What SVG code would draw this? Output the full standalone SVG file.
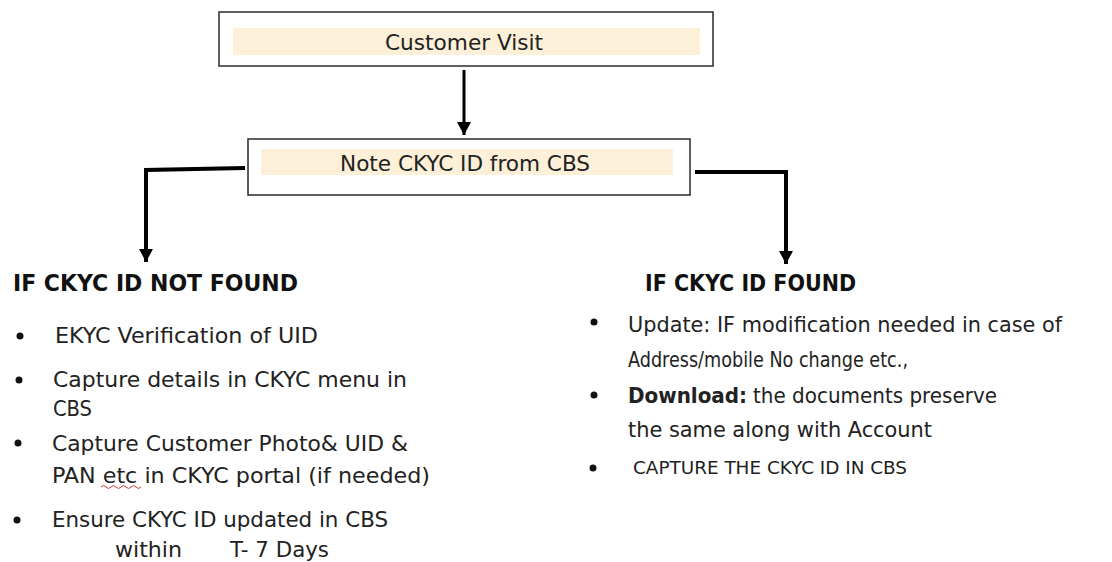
<svg xmlns="http://www.w3.org/2000/svg" width="1112" height="562" viewBox="0 0 1112 562">
<style>
.box{fill:#fff;stroke:#2a2a2a;stroke-width:1.5}
.band{fill:#fcf0d8}
.t{font-family:"DejaVu Sans Condensed","DejaVu Sans",sans-serif;fill:#222}
.bt{font-size:22px;text-anchor:middle}
.h{font-size:23px;font-weight:bold;fill:#111}
.li{font-size:22px}
.sm{font-size:17px}
.dot{fill:#111}
.con{fill:none;stroke:#000;stroke-linejoin:miter}
</style>
<defs>
<marker id="ah" markerUnits="userSpaceOnUse" markerWidth="14" markerHeight="14" refX="13" refY="7" orient="auto">
<path d="M0,0 L13,7 L0,14 z" fill="#000"/>
</marker>
</defs>
<rect width="1112" height="562" fill="#fff"/>
<g id="connectors">
<path class="con" d="M464,70 V135" stroke-width="3" marker-end="url(#ah)"/>
<path class="con" d="M245,168 L146,170 V262" stroke-width="4" marker-end="url(#ah)"/>
<path class="con" d="M695,172 H786 V264" stroke-width="4" marker-end="url(#ah)"/>
</g>
<g id="customer-visit">
<rect class="box" x="219" y="12" width="494" height="54"/>
<rect class="band" x="233" y="28" width="467" height="27"/>
<text class="t bt" x="464" y="50" textLength="158" lengthAdjust="spacingAndGlyphs">Customer Visit</text>
</g>
<g id="note-ckyc">
<rect class="box" x="248" y="139" width="442" height="56"/>
<rect class="band" x="261" y="149" width="412" height="26"/>
<text class="t bt" x="465" y="171" textLength="250" lengthAdjust="spacingAndGlyphs">Note CKYC ID from CBS</text>
</g>
<g id="not-found">
<text class="t h" x="13" y="291" textLength="285" lengthAdjust="spacingAndGlyphs">IF CKYC ID NOT FOUND</text>
<circle class="dot" cx="20" cy="336" r="3.5"/>
<text class="t li" x="55" y="343" textLength="263" lengthAdjust="spacingAndGlyphs">EKYC Verification of UID</text>
<circle class="dot" cx="19" cy="380" r="3.5"/>
<text class="t li" x="53" y="387" textLength="354" lengthAdjust="spacingAndGlyphs">Capture details in CKYC menu in</text>
<text class="t li" x="53" y="416" textLength="39" lengthAdjust="spacingAndGlyphs">CBS</text>
<circle class="dot" cx="18" cy="443" r="3.5"/>
<text class="t li" x="52" y="451" textLength="356" lengthAdjust="spacingAndGlyphs">Capture Customer Photo&amp; UID &amp;</text>
<text class="t li" x="52" y="483" textLength="378" lengthAdjust="spacingAndGlyphs">PAN etc in CKYC portal (if needed)</text>
<path d="M101,487 q2.5,-3 5,0 t5,0 t5,0 t5,0 t5,0 t5,0 t5,0 t5,0" fill="none" stroke="#d03030" stroke-width="1"/>
<circle class="dot" cx="17" cy="520" r="3.5"/>
<text class="t li" x="52" y="527" textLength="336" lengthAdjust="spacingAndGlyphs">Ensure CKYC ID updated in CBS</text>
<text class="t li" x="115" y="557" textLength="67" lengthAdjust="spacingAndGlyphs">within</text>
<text class="t li" x="230" y="557" textLength="99" lengthAdjust="spacingAndGlyphs">T- 7 Days</text>
</g>
<g id="found">
<text class="t h" x="645" y="291" textLength="211" lengthAdjust="spacingAndGlyphs">IF CKYC ID FOUND</text>
<circle class="dot" cx="594" cy="322" r="3.5"/>
<text class="t li" x="628" y="332" textLength="434" lengthAdjust="spacingAndGlyphs">Update: IF modification needed in case of</text>
<text class="t li" x="628" y="367" textLength="280" lengthAdjust="spacingAndGlyphs">Address/mobile No change etc.,</text>
<circle class="dot" cx="594" cy="395" r="3.5"/>
<text class="t li" x="628" y="403" font-weight="bold" textLength="119" lengthAdjust="spacingAndGlyphs">Download:</text>
<text class="t li" x="753" y="403" textLength="244" lengthAdjust="spacingAndGlyphs">the documents preserve</text>
<text class="t li" x="628" y="437" textLength="304" lengthAdjust="spacingAndGlyphs">the same along with Account</text>
<circle class="dot" cx="593" cy="468" r="3.5"/>
<text class="t sm" x="633" y="474" textLength="274" lengthAdjust="spacingAndGlyphs">CAPTURE THE CKYC ID IN CBS</text>
</g>
</svg>
